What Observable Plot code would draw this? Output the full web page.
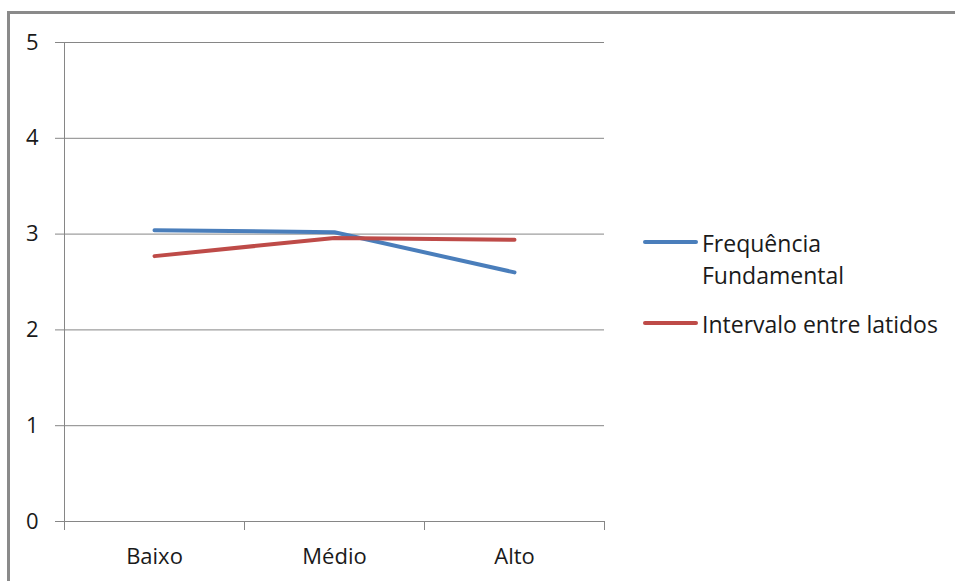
<!DOCTYPE html>
<html>
<head>
<meta charset="utf-8">
<script src="https://cdn.jsdelivr.net/npm/d3@7"></script>
<script src="https://cdn.jsdelivr.net/npm/@observablehq/plot@0.6"></script>
<style>
  html, body { margin: 0; padding: 0; background: #fff; }
  #root { position: relative; width: 955px; height: 581px; overflow: hidden; font-family: "Open Sans", sans-serif; }
  #frame { position: absolute; left: 7px; top: 11px; right: -20px; bottom: -20px; border-top: 3px solid #8a8a8a; border-left: 3px solid #8a8a8a; pointer-events: none; }
  #chart { position: absolute; left: 0; top: 0; }
  .leg { position: absolute; font-size: 23px; line-height: 32px; color: #1a1a1a; white-space: nowrap; }
  .sw { position: absolute; height: 4px; border-radius: 2px; }
</style>
</head>
<body>
<div id="root">
  <div id="chart"></div>
  <div id="legend"></div>
  <div id="frame"></div>
</div>
<script>
const categories = ["Baixo", "Médio", "Alto"];
const frequencia = [3.04, 3.02, 2.60];
const intervalo = [2.77, 2.96, 2.94];
const yTicks = [0, 1, 2, 3, 4, 5];
const seriesNames = ["Frequência Fundamental", "Intervalo entre latidos"];
const legendLines = [["Frequência", "Fundamental"], ["Intervalo entre latidos"]];
const colors = ["#4a7ebb", "#be4b48"];

const seriesValues = [frequencia, intervalo];
const data = seriesNames.flatMap((s, k) =>
  categories.map((c, i) => ({ series: s, cat: c, idx: i, value: seriesValues[k][i] }))
);

const gridColor = "#868686";

const chart = Plot.plot({
  width: 955,
  height: 581,
  marginLeft: 64,
  marginRight: 351,
  marginTop: 42,
  marginBottom: 60,
  style: { fontFamily: "Open Sans, sans-serif", fontSize: "22px", color: "#1a1a1a", background: "transparent" },
  x: { type: "linear", domain: [0, categories.length], axis: null },
  y: { domain: [0, 5], axis: null },
  color: { domain: seriesNames, range: colors },
  marks: [
    Plot.gridY(yTicks, { stroke: gridColor, strokeOpacity: 1, strokeWidth: 1 }),
    Plot.axisY(yTicks, { label: null, tickSize: 9, tickPadding: 17, stroke: gridColor, strokeOpacity: 1, tickFormat: d => String(d), fontSize: 22 }),
    Plot.ruleX([0], { y1: 0, y2: 5, stroke: gridColor, strokeWidth: 1 }),
    Plot.axisX(d3.range(categories.length + 1), { label: null, tickSize: 9, stroke: gridColor, strokeOpacity: 1, tickFormat: () => "" }),
    Plot.axisX(categories.map((c, i) => i + 0.5), { label: null, tickSize: 0, tickPadding: 27, tickFormat: d => categories[Math.floor(d)], fontSize: 22 }),
    Plot.line(data, { x: d => d.idx + 0.5, y: "value", z: "series", stroke: "series", strokeWidth: 4, strokeLinecap: "round", strokeLinejoin: "round" })
  ]
});
document.getElementById("chart").appendChild(chart);

// Legend (HTML)
const legend = document.getElementById("legend");
const legendPos = [{ swY: 240, top: 227 }, { swY: 321, top: 308 }];
seriesNames.forEach((s, k) => {
  const sw = document.createElement("div");
  sw.className = "sw";
  sw.style.left = "643px";
  sw.style.width = "55px";
  sw.style.top = legendPos[k].swY + "px";
  sw.style.background = colors[k];
  legend.appendChild(sw);
  const t = document.createElement("div");
  t.className = "leg";
  t.style.left = "702px";
  t.style.top = legendPos[k].top + "px";
  t.innerHTML = legendLines[k].join("<br>");
  legend.appendChild(t);
});
</script>
</body>
</html>
